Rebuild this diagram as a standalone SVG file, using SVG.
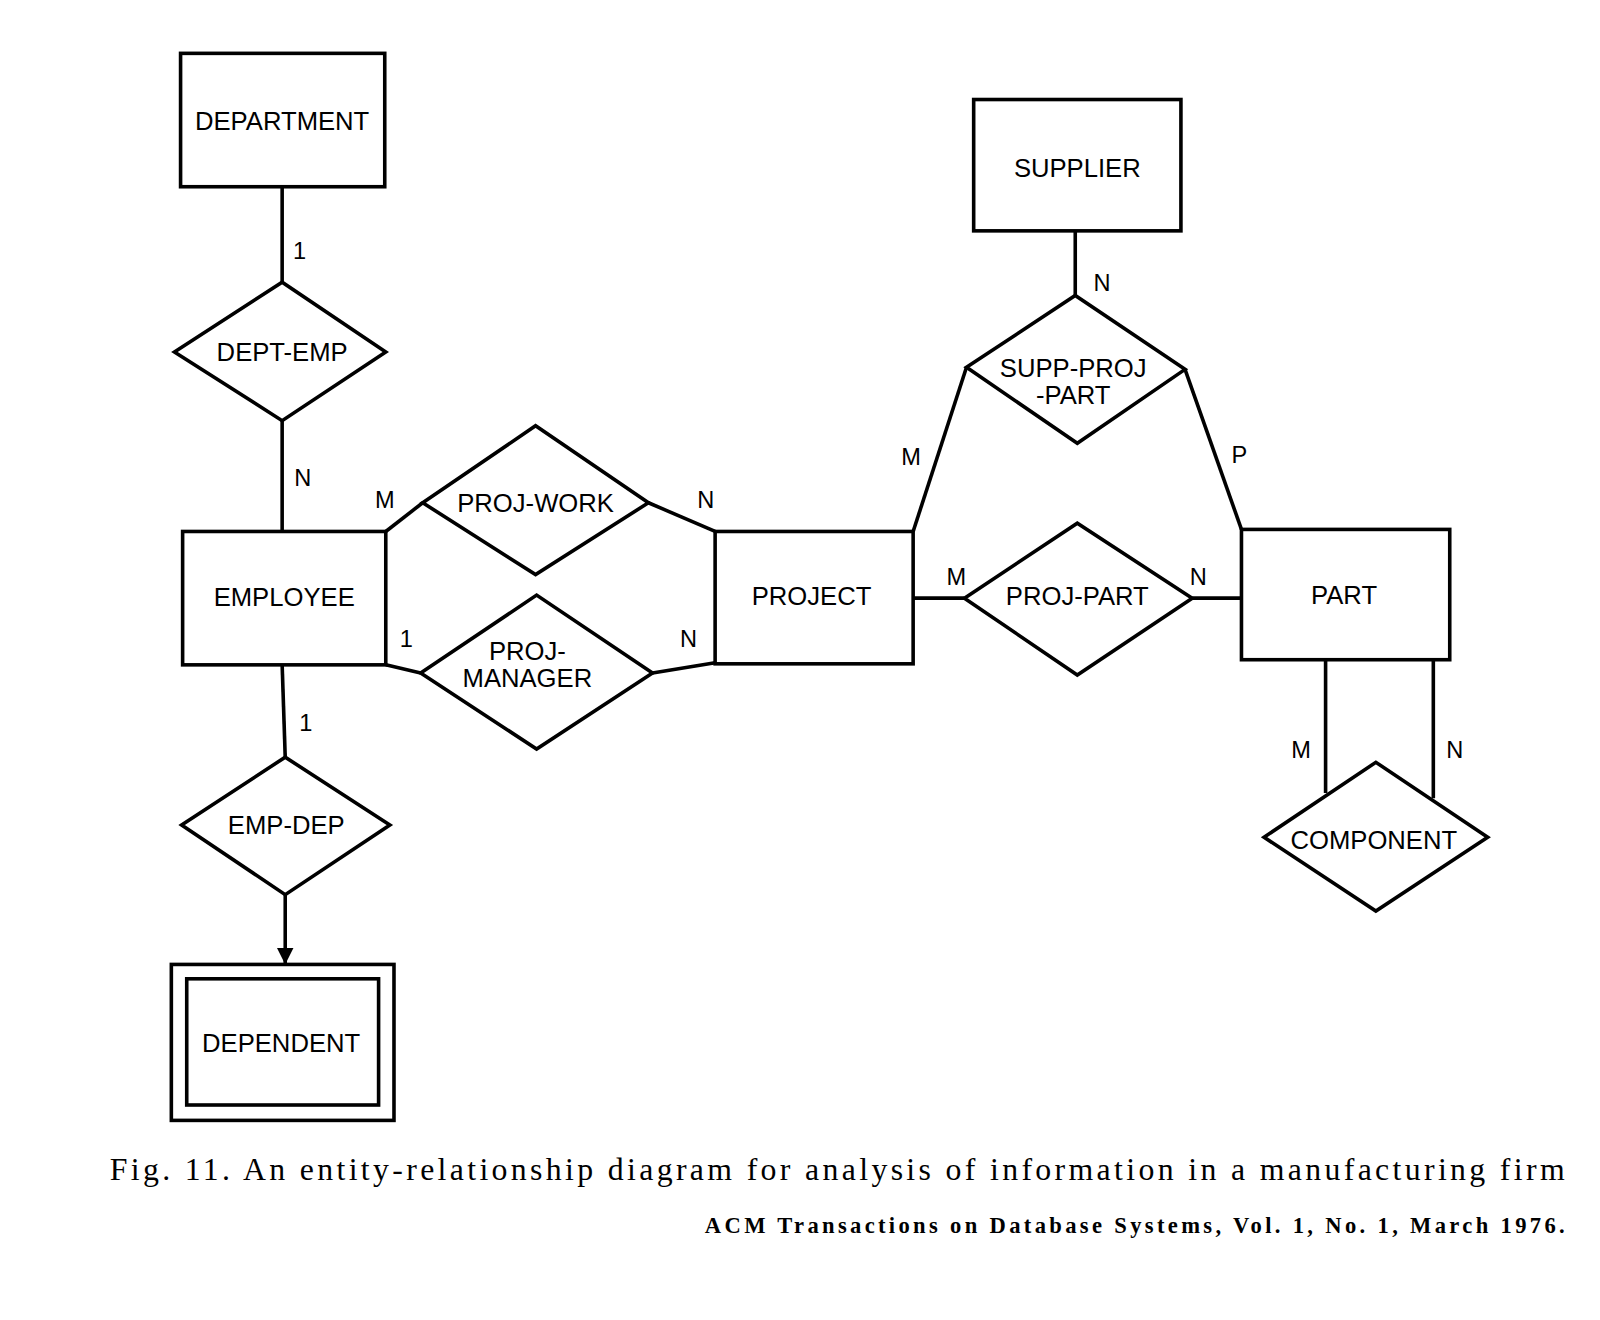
<svg xmlns="http://www.w3.org/2000/svg" width="1600" height="1320" viewBox="0 0 1600 1320">
<style>
.s{fill:none;stroke:#000;stroke-width:3.5;stroke-linejoin:miter}
.t{font-family:"Liberation Sans",Arial,sans-serif;font-size:25px;text-anchor:middle;fill:#000}
.l{font-family:"Liberation Sans",Arial,sans-serif;font-size:23px;text-anchor:middle;fill:#000}
.c{font-family:"Liberation Serif","Times New Roman",serif;fill:#000}
</style>
<defs>
<marker id="ar" viewBox="0 0 16 20" refX="16" refY="10" markerWidth="16" markerHeight="20" orient="auto" markerUnits="userSpaceOnUse"><path d="M0,2 L16,10 L0,18 Z" fill="#000"/></marker></defs>
<rect width="1600" height="1320" fill="#fff"/>
<g transform="scale(1.026)">
<g id="connectors" class="s">
<line x1="275" y1="182" x2="275" y2="275"/>
<line x1="275" y1="410" x2="275" y2="518"/>
<line x1="275" y1="648" x2="278" y2="738"/>
<line x1="278" y1="872" x2="278" y2="940" marker-end="url(#ar)"/>
<polyline points="376,518 412,490"/>
<polyline points="632,490 697,518"/>
<polyline points="376,648 410,656"/>
<polyline points="636,656 697,646"/>
<line x1="890" y1="583" x2="940" y2="583"/>
<line x1="1162" y1="583" x2="1210" y2="583"/>
<line x1="1048" y1="225" x2="1048" y2="288"/>
<line x1="942" y1="358" x2="890" y2="518"/>
<line x1="1155" y1="360" x2="1210" y2="516"/>
<line x1="1292" y1="643" x2="1292" y2="773"/>
<line x1="1397" y1="643" x2="1397" y2="778"/>
</g>
<g id="labels" class="l">
<text x="292" y="252">1</text><text x="295" y="474">N</text><text x="298" y="712">1</text>
<text x="375" y="495">M</text><text x="688" y="495">N</text>
<text x="396" y="631">1</text><text x="671" y="631">N</text>
<text x="932" y="570">M</text><text x="1168" y="570">N</text>
<text x="1074" y="284">N</text><text x="888" y="453">M</text><text x="1208" y="451">P</text>
<text x="1268" y="739">M</text><text x="1418" y="739">N</text>
</g>
<g id="department"><rect class="s" x="176" y="52" width="199" height="130"/><text class="t" x="275" y="127">DEPARTMENT</text></g>
<g id="dept-emp"><polygon class="s" points="170,343 275,275 376,343 275,410"/><text class="t" x="275" y="352">DEPT-EMP</text></g>
<g id="employee"><rect class="s" x="178" y="518" width="198" height="130"/><text class="t" x="277" y="591">EMPLOYEE</text></g>
<g id="emp-dep"><polygon class="s" points="177,804 278,738 380,804 278,872"/><text class="t" x="279" y="813">EMP-DEP</text></g>
<g id="dependent"><rect class="s" x="167" y="940" width="217" height="152"/><rect class="s" x="182" y="954" width="187" height="123"/><text class="t" x="274" y="1025">DEPENDENT</text></g>
<g id="proj-work"><polygon class="s" points="412,490 522,415 632,490 522,560"/><text class="t" x="522" y="499">PROJ-WORK</text></g>
<g id="proj-manager"><polygon class="s" points="410,656 523,580 636,656 523,730"/><text class="t" x="514" y="643">PROJ-</text><text class="t" x="514" y="670">MANAGER</text></g>
<g id="project"><rect class="s" x="697" y="518" width="193" height="129"/><text class="t" x="791" y="590">PROJECT</text></g>
<g id="proj-part"><polygon class="s" points="940,583 1050,510 1162,583 1050,658"/><text class="t" x="1050" y="590">PROJ-PART</text></g>
<g id="part"><rect class="s" x="1210" y="516" width="203" height="127"/><text class="t" x="1310" y="589">PART</text></g>
<g id="supplier"><rect class="s" x="949" y="97" width="202" height="128"/><text class="t" x="1050" y="173">SUPPLIER</text></g>
<g id="supp-proj-part"><polygon class="s" points="942,358 1048,288 1155,360 1050,432"/><text class="t" x="1046" y="367">SUPP-PROJ</text><text class="t" x="1046" y="394">-PART</text></g>
<g id="component"><polygon class="s" points="1232,816 1341,743 1450,816 1341,888"/><text class="t" x="1339" y="827">COMPONENT</text></g>
<text class="c" x="107" y="1150" font-size="31" textLength="1418" lengthAdjust="spacing">Fig. 11. An entity-relationship diagram for analysis of information in a manufacturing firm</text>
<text class="c" x="687" y="1202" font-size="22" font-weight="bold" textLength="838" lengthAdjust="spacing">ACM Transactions on Database Systems, Vol. 1, No. 1, March 1976.</text>
</g>
</svg>
